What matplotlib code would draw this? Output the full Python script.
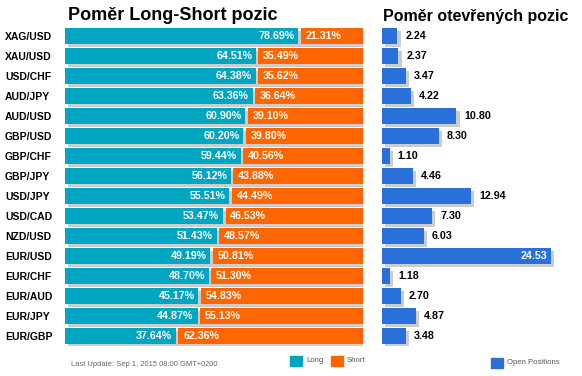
import matplotlib
matplotlib.use("Agg")
import matplotlib.pyplot as plt
import matplotlib.patheffects as pe

pairs = ["XAG/USD", "XAU/USD", "USD/CHF", "AUD/JPY", "AUD/USD", "GBP/USD", "GBP/CHF", "GBP/JPY",
         "USD/JPY", "USD/CAD", "NZD/USD", "EUR/USD", "EUR/CHF", "EUR/AUD", "EUR/JPY", "EUR/GBP"]
long_pct = [78.69, 64.51, 64.38, 63.36, 60.90, 60.20, 59.44, 56.12, 55.51, 53.47, 51.43, 49.19, 48.70, 45.17, 44.87, 37.64]
short_pct = [21.31, 35.49, 35.62, 36.64, 39.10, 39.80, 40.56, 43.88, 44.49, 46.53, 48.57, 50.81, 51.30, 54.83, 55.13, 62.36]
open_pos = [2.24, 2.37, 3.47, 4.22, 10.80, 8.30, 1.10, 4.46, 12.94, 7.30, 6.03, 24.53, 1.18, 2.70, 4.87, 3.48]

TEAL = "#00A6C0"
ORANGE = "#FF6600"
BLUE = "#2970D8"
SHADOW = "#CCCCCC"

plt.rcParams['font.family'] = ['Liberation Sans', 'DejaVu Sans']

W, H = 582, 376
fig = plt.figure(figsize=(W / 100, H / 100), dpi=100)

top_px, bot_px = 26, 346
ax_b = (H - bot_px) / H
ax_h = (bot_px - top_px) / H
ax1 = fig.add_axes([65 / W, ax_b, 298 / W, ax_h])
ax2 = fig.add_axes([382 / W, ax_b, 180 / W, ax_h])

shadow_fx = pe.SimplePatchShadow(offset=(2.3, -2.5), shadow_rgbFace=SHADOW, alpha=1.0)
gap = 0.8
ys = list(range(len(pairs)))
bh = 0.8

# shadows for full bar
sb = ax1.barh(ys, [l + s for l, s in zip(long_pct, short_pct)], height=bh, left=0, color="none")
for p in sb:
    p.set_path_effects([shadow_fx])
ax1.barh(ys, [l - gap / 2 for l in long_pct], height=bh, left=0, color=TEAL)
ax1.barh(ys, [s - gap / 2 for s in short_pct], height=bh,
         left=[l + gap / 2 for l in long_pct], color=ORANGE)
for y, l, s in zip(ys, long_pct, short_pct):
    ax1.text(l - gap / 2 - 1.3, y, f"{l:.2f}%", color="white", fontsize=7.7, fontweight="bold",
             ha="right", va="center")
    ax1.text(l + gap / 2 + 1.6, y, f"{s:.2f}%", color="white", fontsize=7.7, fontweight="bold",
             ha="left", va="center")
ax1.set_xlim(0, 100)
ax1.set_ylim(len(pairs) - 0.5, -0.5)
ax1.set_yticks(ys)
ax1.set_yticklabels(pairs, fontsize=7.5, fontweight="bold")
for t in ax1.get_yticklabels():
    t.set_horizontalalignment("left")
ax1.tick_params(axis="y", length=0, pad=(65 - 5) * 0.72)
ax1.set_xticks([])
for sp in ax1.spines.values():
    sp.set_visible(False)

bars = ax2.barh(ys, open_pos, height=bh, color=BLUE)
for p in bars:
    p.set_path_effects([shadow_fx, pe.Normal()])
mx = max(open_pos)
for y, v in zip(ys, open_pos):
    if v == mx:
        ax2.text(v - 0.5, y, f"{v:.2f}", color="white", fontsize=7.7, fontweight="bold",
                 ha="right", va="center")
    else:
        ax2.text(v + 1.15, y, f"{v:.2f}", color="black", fontsize=7.7, fontweight="bold",
                 ha="left", va="center")
ax2.set_xlim(0, 180 / 6.89)
ax2.set_ylim(len(pairs) - 0.5, -0.5)
ax2.set_xticks([])
ax2.set_yticks([])
for sp in ax2.spines.values():
    sp.set_visible(False)

fig.text(68 / W, 1 - 15 / H, "Poměr Long-Short pozic", fontsize=13, fontweight="bold",
         ha="left", va="center")
fig.text(383 / W, 1 - 17 / H, "Poměr otevřených pozic", fontsize=11.5, fontweight="bold",
         ha="left", va="center")

fig.text(71 / W, 1 - 365 / H, "Last Update: Sep 1, 2015 08:00 GMT+0200", fontsize=5.4,
         color="#666666", ha="left", va="center")

def legend_item(x, y, color, label):
    fig.patches.append(plt.Rectangle((x / W, 1 - (y + 5) / H), 12 / W, 10 / H,
                                     transform=fig.transFigure, color=color))
    fig.text((x + 16) / W, 1 - y / H, label, fontsize=5.6, color="#555555", ha="left", va="center")

legend_item(290, 361, TEAL, "Long")
legend_item(331, 361, ORANGE, "Short")
legend_item(491, 363, BLUE, "Open Positions")

fig.savefig("out.png", dpi=100)
